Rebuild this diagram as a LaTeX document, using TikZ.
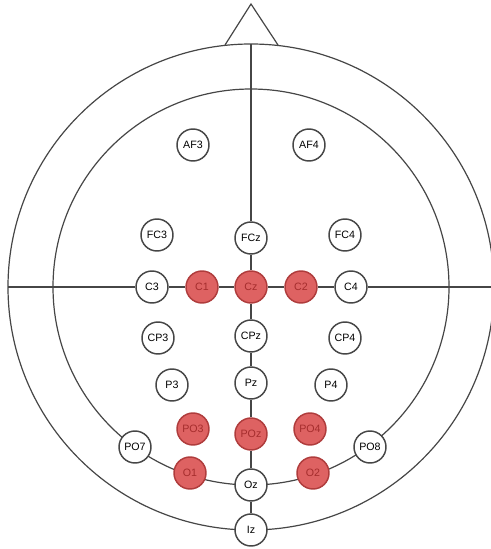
\documentclass[tikz,border=0pt]{standalone}
\usepackage{fontspec}
\setmainfont{Liberation Sans}
\usepackage{xcolor}
\definecolor{eeggray}{RGB}{70,70,70}
\definecolor{eegred}{RGB}{222,98,98}
\definecolor{eegredline}{RGB}{175,60,60}
\definecolor{eegredtext}{RGB}{165,45,45}

\begin{document}
\begin{tikzpicture}[x=0.75pt, y=-0.75pt, every node/.style={font=\fontsize{8}{9}\selectfont}]
  \tikzset{
    head/.style={draw=eeggray, line width=0.9pt},
    electrode/.style={circle, draw=eeggray, line width=1.1pt, fill=white, minimum size=24pt, inner sep=0pt},
    active/.style={electrode, draw=eegredline, fill=eegred, text=eegredtext}
  }
  \useasboundingbox (0,0) rectangle (490,549);

  % Head outline, nose and inner ring
  \draw[head] (251,287) circle[radius=243];
  \draw[head] (251,287) circle[radius=198];
  \draw[head] (225,45) -- (251,4) -- (278,45);

  \coordinate (nasion) at (251,44);
  \coordinate (leftear) at (8,287);
  \coordinate (rightear) at (494,287);

  % Frontal
  \node[electrode] (AF3) at (193,145) {AF3};
  \node[electrode] (AF4) at (309,145) {AF4};

  \node[electrode] (FC3) at (157,235) {FC3};
  \node[electrode] (FCz) at (251,238) {FCz};
  \node[electrode] (FC4) at (345,235) {FC4};

  % Central row
  \node[electrode] (C3) at (152,287) {C3};
  \node[active]    (C1) at (202,287) {C1};
  \node[active]    (Cz) at (251,287) {Cz};
  \node[active]    (C2) at (301,287) {C2};
  \node[electrode] (C4) at (351,287) {C4};

  % Parietal
  \node[electrode] (CP3) at (158,338) {CP3};
  \node[electrode] (CPz) at (251,336) {CPz};
  \node[electrode] (CP4) at (345,338) {CP4};

  \node[electrode] (P3) at (172,385) {P3};
  \node[electrode] (Pz) at (251,383) {Pz};
  \node[electrode] (P4) at (331,385) {P4};

  \node[active] (PO3) at (193,429) {PO3};
  \node[active] (POz) at (251,434) {POz};
  \node[active] (PO4) at (310,429) {PO4};

  % Occipital, on the rings
  \node[electrode] (PO7) at (135,447) {PO7};
  \node[electrode] (PO8) at (370,447) {PO8};
  \node[active]    (O1) at (190,473) {O1};
  \node[electrode] (Oz) at (251,485) {Oz};
  \node[active]    (O2) at (313,473) {O2};
  \node[electrode] (Iz) at (251,530) {Iz};

  % Midlines
  \draw[head] (nasion) -- (FCz) (FCz) -- (Cz) (Cz) -- (CPz) (CPz) -- (Pz)
    (Pz) -- (POz) (POz) -- (Oz) (Oz) -- (Iz);
  \draw[head] (leftear) -- (C3) (C3) -- (C1) (C1) -- (Cz) (Cz) -- (C2)
    (C2) -- (C4) (C4) -- (rightear);
\end{tikzpicture}
\end{document}
